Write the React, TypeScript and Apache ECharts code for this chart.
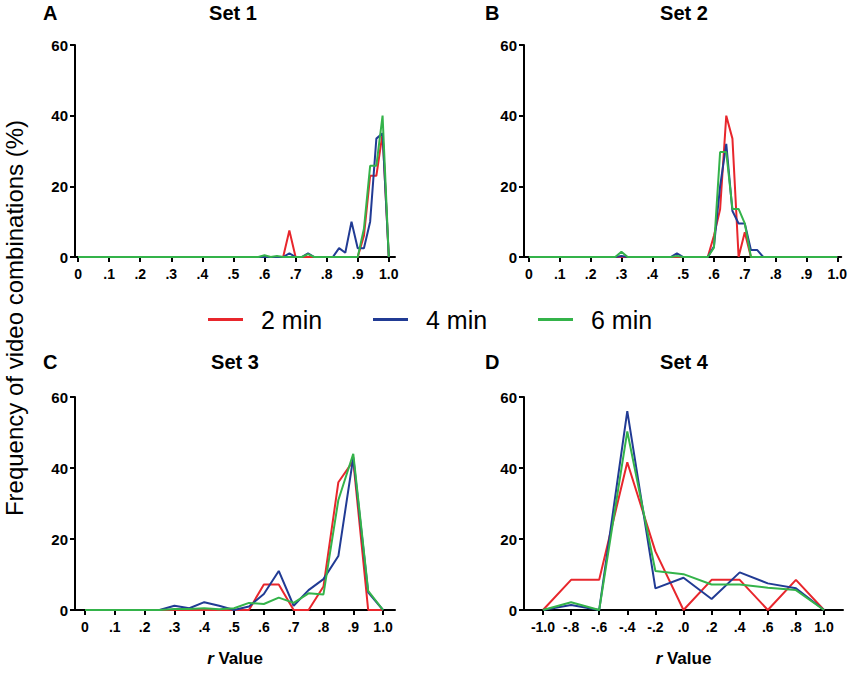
import React, { useEffect, useRef } from "react";
import * as echarts from "echarts";

// ---- bins (r value) ----
const binsAB = [
  0, 0.02, 0.04, 0.06, 0.08, 0.1, 0.12, 0.14, 0.16, 0.18,
  0.2, 0.22, 0.24, 0.26, 0.28, 0.3, 0.32, 0.34, 0.36, 0.38,
  0.4, 0.42, 0.44, 0.46, 0.48, 0.5, 0.52, 0.54, 0.56, 0.58,
  0.6, 0.62, 0.64, 0.66, 0.68, 0.7, 0.72, 0.74, 0.76, 0.78,
  0.8, 0.82, 0.84, 0.86, 0.88, 0.9, 0.92, 0.94, 0.96, 0.98, 1.0,
];
const binsC = [
  0, 0.05, 0.1, 0.15, 0.2, 0.25, 0.3, 0.35, 0.4, 0.45, 0.5,
  0.55, 0.6, 0.65, 0.7, 0.75, 0.8, 0.85, 0.9, 0.95, 1.0,
];
const binsD = [-1.0, -0.8, -0.6, -0.4, -0.2, 0, 0.2, 0.4, 0.6, 0.8, 1.0];

// ---- Set 1 ----
const set1Min2 = [
  0, 0, 0, 0, 0, 0, 0, 0, 0, 0, 0, 0, 0, 0, 0, 0, 0, 0, 0, 0, 0, 0, 0, 0, 0, 0, 0, 0, 0, 0,
  0, 0, 0, 0, 7.5, 0, 0, 0, 0, 0, 0, 0, 0, 0, 0, 0, 6, 23, 23, 35, 0,
];
const set1Min4 = [
  0, 0, 0, 0, 0, 0, 0, 0, 0, 0, 0, 0, 0, 0, 0, 0, 0, 0, 0, 0, 0, 0, 0, 0, 0, 0, 0, 0, 0, 0,
  0, 0, 0, 0, 1, 0, 0, 1, 0, 0, 0, 0, 2.5, 1.2, 10, 2.5, 2.5, 10, 33.5, 35, 0,
];
const set1Min6 = [
  0, 0, 0, 0, 0, 0, 0, 0, 0, 0, 0, 0, 0, 0, 0, 0, 0, 0, 0, 0, 0, 0, 0, 0, 0, 0, 0, 0, 0, 0,
  0.5, 0, 0.3, 0, 0, 0, 0, 0.8, 0, 0, 0, 0, 0, 0, 0, 0, 8, 25.8, 25.8, 40, 0,
];

// ---- Set 2 ----
const set2Min2 = [
  0, 0, 0, 0, 0, 0, 0, 0, 0, 0, 0, 0, 0, 0, 0, 0, 0, 0, 0, 0, 0, 0, 0, 0, 0, 0, 0, 0, 0, 0,
  6, 13.5, 40, 33.5, 0, 7, 0, 0, 0, 0, 0, 0, 0, 0, 0, 0, 0, 0, 0, 0, 0,
];
const set2Min4 = [
  0, 0, 0, 0, 0, 0, 0, 0, 0, 0, 0, 0, 0, 0, 0, 0.3, 0, 0, 0, 0, 0, 0, 0, 0, 1, 0, 0, 0, 0, 0,
  3, 20, 32, 13, 9.5, 9.5, 2, 2, 0, 0, 0, 0, 0, 0, 0, 0, 0, 0, 0, 0, 0,
];
const set2Min6 = [
  0, 0, 0, 0, 0, 0, 0, 0, 0, 0, 0, 0, 0, 0, 0, 1.5, 0, 0, 0, 0, 0, 0, 0, 0, 0.3, 0, 0, 0, 0, 0,
  2.6, 29.7, 29.7, 13.6, 13.6, 9.5, 0, 0, 0, 0, 0, 0, 0, 0, 0, 0, 0, 0, 0, 0, 0,
];

// ---- Set 3 ----
const set3Min2 = [0, 0, 0, 0, 0, 0, 0, 0, 0, 0, 0, 0, 7.2, 7.2, 0, 0, 6.6, 36, 42, 0, 0];
const set3Min4 = [0, 0, 0, 0, 0, 0, 1.2, 0.5, 2.2, 1.2, 0, 1, 4.5, 11, 1.2, 5.6, 8.7, 15.2, 43, 5, 0];
const set3Min6 = [0, 0, 0, 0, 0, 0, 0.3, 0.3, 0.5, 0.2, 0.5, 2, 1.7, 3.5, 2, 4.7, 4.4, 31, 44, 5.4, 0];

// ---- Set 4 ----
const set4Min2 = [0, 8.5, 8.5, 41.6, 16.5, 0, 8.5, 8.5, 0, 8.5, 0];
const set4Min4 = [0, 1.4, 0, 56, 6.1, 9.1, 3.1, 10.6, 7.5, 6.1, 0];
const set4Min6 = [0, 2.2, 0, 50.3, 11, 10.1, 7.2, 7.2, 6.3, 5.6, 0];

// ---- ticks ----
const ticksPos = [0, 0.1, 0.2, 0.3, 0.4, 0.5, 0.6, 0.7, 0.8, 0.9, 1.0];
const ticksPosLabels = ["0", ".1", ".2", ".3", ".4", ".5", ".6", ".7", ".8", ".9", "1.0"];
const ticksFull = [-1.0, -0.8, -0.6, -0.4, -0.2, 0, 0.2, 0.4, 0.6, 0.8, 1.0];
const ticksFullLabels = ["-1.0", "-.8", "-.6", "-.4", "-.2", ".0", ".2", ".4", ".6", ".8", "1.0"];

const seriesNames = ["2 min", "4 min", "6 min"];
const panelLetters = ["A", "B", "C", "D"];
const panelTitles = ["Set 1", "Set 2", "Set 3", "Set 4"];
const yTitle = "Frequency of video combinations (%)";

const COLORS = ["#e8262c", "#213b94", "#34b34a"];
const FONT = '"Liberation Sans", Arial, Helvetica, sans-serif';

export default function App() {
  const ref = useRef<HTMLDivElement>(null);

  useEffect(() => {
    if (!ref.current) return;
    const chart = echarts.init(ref.current, undefined, { renderer: "svg" });

    const fmt = (vals: number[], labels: string[]) => (v: number) => {
      const i = vals.findIndex((t) => Math.abs(t - v) < 1e-6);
      return i >= 0 ? labels[i] : "";
    };

    const axisLine = { show: true, onZero: false, lineStyle: { color: "#000", width: 2 } };
    const axisTick = { show: true, length: 5, lineStyle: { color: "#000", width: 2 } };
    const labelStyle = { fontWeight: "bold", color: "#000", fontFamily: FONT };

    const grids = [
      { left: 75, top: 45, width: 320, height: 212 },
      { left: 524, top: 45, width: 320, height: 212 },
      { left: 75, top: 397, width: 320, height: 213 },
      { left: 524, top: 397, width: 319, height: 213 },
    ];
    const xRanges = [
      [-0.01, 1.02],
      [-0.016, 1.013],
      [-0.0336, 1.04],
      [-1.135, 1.135],
    ];
    const xTicks = [ticksPos, ticksPos, ticksPos, ticksFull];
    const xLabels = [ticksPosLabels, ticksPosLabels, ticksPosLabels, ticksFullLabels];

    const xAxis = grids.map((_, i) => ({
      type: "value",
      gridIndex: i,
      min: xRanges[i][0],
      max: xRanges[i][1],
      axisLine,
      axisTick: { ...axisTick, customValues: xTicks[i] },
      axisLabel: {
        ...labelStyle,
        fontSize: 14,
        margin: 10,
        customValues: xTicks[i],
        formatter: fmt(xTicks[i], xLabels[i]),
      },
      splitLine: { show: false },
      name: i >= 2 ? "{i|r} Value" : "",
      nameLocation: "middle",
      nameGap: 40,
      nameTextStyle: {
        fontSize: 17,
        fontWeight: "bold",
        color: "#000",
        fontFamily: FONT,
        rich: {
          i: { fontSize: 17, fontWeight: "bold", fontStyle: "italic", color: "#000", fontFamily: FONT },
        },
      },
    }));

    const yAxis = grids.map((_, i) => ({
      type: "value",
      gridIndex: i,
      min: 0,
      max: 60,
      interval: 20,
      axisLine,
      axisTick,
      axisLabel: { ...labelStyle, fontSize: 15, margin: 7 },
      splitLine: { show: false },
    }));

    const panels = [
      { bins: binsAB, data: [set1Min2, set1Min4, set1Min6] },
      { bins: binsAB, data: [set2Min2, set2Min4, set2Min6] },
      { bins: binsC, data: [set3Min2, set3Min4, set3Min6] },
      { bins: binsD, data: [set4Min2, set4Min4, set4Min6] },
    ];

    const series: any[] = [];
    panels.forEach((p, pi) => {
      p.data.forEach((vals, si) => {
        series.push({
          type: "line",
          name: seriesNames[si],
          xAxisIndex: pi,
          yAxisIndex: pi,
          data: p.bins.map((x, k) => [x, vals[k]]),
          symbol: "none",
          lineStyle: { color: COLORS[si], width: 2 },
          itemStyle: { color: COLORS[si] },
          silent: true,
        });
      });
    });

    const letterPos = [
      [43, 3],
      [485, 3],
      [43, 352],
      [485, 352],
    ];
    const titlePos = [
      [233, 3],
      [684, 3],
      [235, 352],
      [684, 352],
    ];
    const title: any[] = [];
    panelLetters.forEach((t, i) => {
      title.push({
        text: t,
        left: letterPos[i][0],
        top: letterPos[i][1],
        padding: 0,
        textStyle: { fontSize: 20, fontWeight: "bold", color: "#000", fontFamily: FONT },
      });
    });
    panelTitles.forEach((t, i) => {
      title.push({
        text: t,
        left: titlePos[i][0],
        top: titlePos[i][1],
        textAlign: "center",
        padding: 0,
        textStyle: { fontSize: 20, fontWeight: "bold", color: "#000", fontFamily: FONT },
      });
    });

    const legendLefts = [208, 373, 538];
    const legend = seriesNames.map((n, i) => ({
      data: [{ name: n, icon: "rect" }],
      left: legendLefts[i],
      top: 307,
      padding: 0,
      itemWidth: 35,
      itemHeight: 3,
      selectedMode: false,
      textStyle: {
        fontSize: 25,
        color: "#000",
        fontFamily: FONT,
        padding: [0, 0, 0, 13],
      },
    }));

    chart.setOption({
      animation: false,
      backgroundColor: "#fff",
      textStyle: { fontFamily: FONT },
      title,
      legend,
      grid: grids,
      xAxis,
      yAxis,
      series,
      graphic: [
        {
          type: "text",
          x: 14,
          y: 318,
          rotation: Math.PI / 2,
          style: {
            text: yTitle,
            fontSize: 24,
            fontFamily: FONT,
            fill: "#000",
            align: "center",
            verticalAlign: "middle",
          },
        },
      ],
    });

    return () => chart.dispose();
  }, []);

  return (
    <div
      ref={ref}
      style={{ position: "fixed", left: 0, top: 0, width: 850, height: 673, background: "#fff" }}
    />
  );
}
